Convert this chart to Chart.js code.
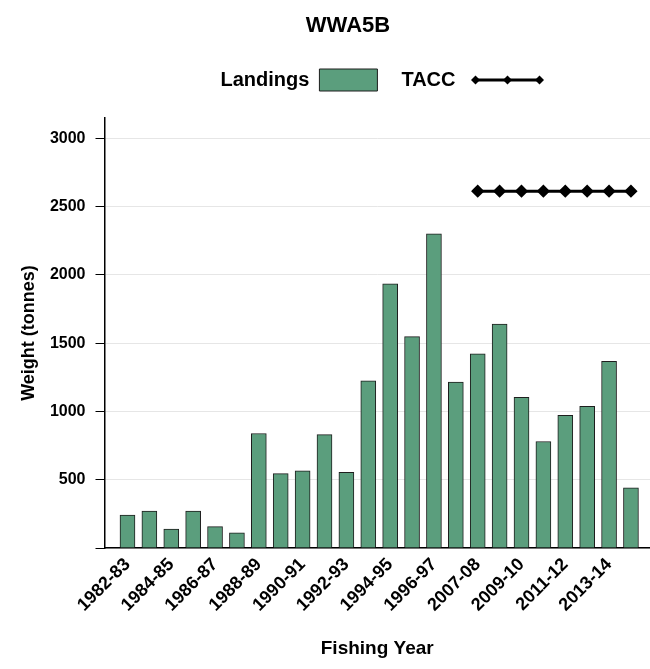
<!DOCTYPE html>
<html>
<head>
<meta charset="utf-8">
<script src="https://cdn.jsdelivr.net/npm/chart.js@4.4.0/dist/chart.umd.min.js"></script>
<style>
html, body { margin: 0; padding: 0; background: #fff; }
#wrap { width: 650px; height: 669px; }
</style>
</head>
<body>
<div id="wrap"><canvas id="grafico"></canvas></div>
<script>
// anos de pesca (o grafico salta de 1996-97 para 2006-07)
const categorias = [
    '1982-83', '1983-84', '1984-85', '1985-86', '1986-87', '1987-88', '1988-89', '1989-90',
    '1990-91', '1991-92', '1992-93', '1993-94', '1994-95', '1995-96', '1996-97',
    '2006-07', '2007-08', '2008-09', '2009-10', '2010-11', '2011-12', '2012-13', '2013-14', '2014-15'
];
const landings = [242, 271, 139, 271, 156, 112, 839, 545, 565, 831, 555, 1225, 1935, 1548, 2302,
                  1216, 1423, 1641, 1103, 780, 971, 1037, 1367, 440];
const tacc = [null, null, null, null, null, null, null, null, null, null, null, null, null, null, null,
              null, 2614, 2614, 2614, 2614, 2614, 2614, 2614, 2614];
const yTicks = [0, 500, 1000, 1500, 2000, 2500, 3000];

Chart.defaults.font.family = "'Liberation Sans', Arial, sans-serif";
Chart.defaults.font.weight = 'bold';
Chart.defaults.color = '#000';

// espaco extra por baixo da legenda e posicao do titulo/legenda
const ajustes = {
    id: 'ajustes',
    beforeInit(chart) {
        const fitOrig = chart.legend.fit;
        chart.legend.fit = function () {
            fitOrig.call(this);
            this.height += 17;
        };
    },
    afterLayout(chart) {
        chart.titleBlock.left = 46;
        chart.legend.left = 94;
        chart.legend.width = chart.legend.right - 94;
    }
};

// icone da linha TACC na legenda
const taccLegenda = {
    id: 'taccLegenda',
    afterDraw(chart) {
        const lg = chart.legend;
        const i = lg.legendItems.findIndex(it => it.text === 'TACC');
        if (i < 0) return;
        const hb = lg.legendHitBoxes[i];
        const bw = lg.options.labels.boxWidth;
        const x1 = hb.left + hb.width - bw + 10;
        const x2 = x1 + 64;
        const y = hb.top + hb.height / 2;
        const ctx = chart.ctx;
        ctx.save();
        ctx.strokeStyle = '#000';
        ctx.fillStyle = '#000';
        ctx.lineWidth = 3;
        ctx.beginPath();
        ctx.moveTo(x1, y);
        ctx.lineTo(x2, y);
        ctx.stroke();
        [x1, (x1 + x2) / 2, x2].forEach(x => {
            ctx.beginPath();
            ctx.moveTo(x - 4.5, y);
            ctx.lineTo(x, y - 4.5);
            ctx.lineTo(x + 4.5, y);
            ctx.lineTo(x, y + 4.5);
            ctx.closePath();
            ctx.fill();
        });
        ctx.restore();
    }
};

const ctx = document.getElementById('grafico').getContext('2d');
new Chart(ctx, {
    type: 'bar',
    data: {
        datasets: [
            {
                type: 'line',
                label: 'TACC',
                data: tacc.map((v, i) => ({x: i, y: v})).filter(p => p.y !== null),
                borderColor: '#000',
                backgroundColor: '#000',
                borderWidth: 3,
                pointStyle: 'rectRot',
                pointRadius: 4.5,
                pointHoverRadius: 4.5,
                fill: false,
                tension: 0
            },
            {
                label: 'Landings',
                data: landings.map((v, i) => ({x: i, y: v})),
                backgroundColor: '#5b9e7d',
                borderColor: '#1e1e1e',
                borderWidth: 1,
                barThickness: 15
            }
        ]
    },
    options: {
        responsive: true,
        maintainAspectRatio: false,
        animation: false,
        layout: { padding: 0, autoPadding: false },
        plugins: {
            title: {
                display: true,
                text: 'WWA5B',
                font: { size: 22, weight: 'bold' },
                padding: { top: 13, bottom: 5.6 }
            },
            legend: {
                position: 'top',
                rtl: true,
                textDirection: 'ltr',
                labels: {
                    boxWidth: 58,
                    boxHeight: 22,
                    padding: 24,
                    font: { size: 20, weight: 'bold' },
                    generateLabels: chart => Chart.defaults.plugins.legend.labels.generateLabels(chart).map(item => {
                        if (item.text === 'TACC') {
                            item.fillStyle = 'rgba(0,0,0,0)';
                            item.strokeStyle = 'rgba(0,0,0,0)';
                            item.lineWidth = 0;
                        }
                        return item;
                    })
                }
            },
            tooltip: { enabled: false }
        },
        scales: {
            x: {
                type: 'linear',
                offset: false,
                min: -1.05,
                max: 23.87,
                afterBuildTicks: s => {
                    s.ticks = categorias.map((c, i) => ({value: i})).filter(t => t.value % 2 === 0);
                },
                afterFit: s => {
                    s.height = 121;
                    s.paddingLeft = 0;
                    s.paddingRight = 0;
                },
                ticks: {
                    autoSkip: false,
                    maxRotation: 45,
                    minRotation: 45,
                    padding: 6,
                    font: { size: 18, weight: 'bold' },
                    callback: v => categorias[v]
                },
                grid: { drawOnChartArea: false, drawTicks: false },
                border: { color: '#000', width: 1.5 },
                title: {
                    display: true,
                    text: 'Fishing Year',
                    font: { size: 19, weight: 'bold' },
                    padding: { top: 0, bottom: 9 }
                }
            },
            y: {
                min: 0,
                max: 3150,
                afterBuildTicks: s => {
                    s.ticks = yTicks.map(v => ({value: v}));
                },
                afterFit: s => { s.width = 104.5; },
                ticks: {
                    padding: 10,
                    font: { size: 16, weight: 'bold' },
                    callback: v => (v === 0 ? '' : v)
                },
                grid: { color: '#e6e6e6', tickColor: '#000', tickLength: 9, lineWidth: 1 },
                border: { color: '#000', width: 1.5 },
                title: {
                    display: true,
                    text: 'Weight (tonnes)',
                    font: { size: 18, weight: 'bold' },
                    padding: { top: 18 }
                }
            }
        }
    },
    plugins: [ajustes, taccLegenda]
});
</script>
</body>
</html>
